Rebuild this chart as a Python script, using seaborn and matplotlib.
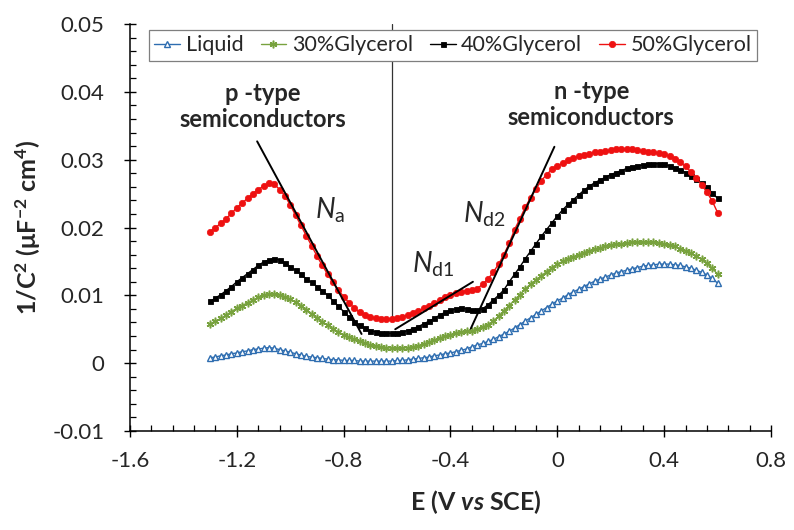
import numpy as np
import matplotlib
matplotlib.use("Agg")
import matplotlib.pyplot as plt
from matplotlib.ticker import MultipleLocator, FixedLocator, FixedFormatter
from matplotlib.lines import Line2D
import seaborn as sns

# Potential sweep (V vs SCE), 20 mV steps from -1.30 V to +0.60 V
potential = np.round(np.arange(-1.30, 0.6001, 0.02), 2)

# 1/C^2 (uF^-2 cm^4) for each electrolyte
liquid = [
    0.0008, 0.0009, 0.0011, 0.0012, 0.0014, 0.0015, 0.0017, 0.0018, 0.0020, 0.0021,
    0.0022, 0.0023, 0.0022, 0.0020, 0.0018, 0.0016, 0.0014, 0.0012, 0.0010, 0.0009,
    0.0008, 0.0007, 0.0006, 0.0005, 0.0005, 0.0004, 0.0004, 0.0004, 0.0003, 0.0003,
    0.0003, 0.0003, 0.0003, 0.0003, 0.0003, 0.0004, 0.0004, 0.0005, 0.0006, 0.0007,
    0.0008, 0.0009, 0.0011, 0.0012, 0.0014, 0.0015, 0.0017, 0.0019, 0.0021, 0.0024,
    0.0027, 0.0029, 0.0032, 0.0035, 0.0039, 0.0043, 0.0047, 0.0052, 0.0057, 0.0062,
    0.0067, 0.0072, 0.0077, 0.0082, 0.0087, 0.0092, 0.0096, 0.0101, 0.0105, 0.0109,
    0.0113, 0.0117, 0.0121, 0.0124, 0.0127, 0.0130, 0.0133, 0.0135, 0.0137, 0.0139,
    0.0141, 0.0143, 0.0144, 0.0145, 0.0146, 0.0146, 0.0146, 0.0145, 0.0144, 0.0142,
    0.0140, 0.0137, 0.0134, 0.0130, 0.0125, 0.0118,
]
glycerol_30 = [
    0.0058, 0.0062, 0.0066, 0.0071, 0.0076, 0.0081, 0.0085, 0.0089, 0.0093, 0.0097,
    0.0100, 0.0102, 0.0102, 0.0101, 0.0098, 0.0094, 0.0090, 0.0085, 0.0079, 0.0073,
    0.0067, 0.0061, 0.0056, 0.0051, 0.0046, 0.0042, 0.0038, 0.0035, 0.0032, 0.0029,
    0.0027, 0.0025, 0.0024, 0.0023, 0.0022, 0.0022, 0.0022, 0.0023, 0.0024, 0.0026,
    0.0028, 0.0031, 0.0034, 0.0037, 0.0040, 0.0042, 0.0044, 0.0046, 0.0047, 0.0048,
    0.0050, 0.0053, 0.0057, 0.0062, 0.0069, 0.0077, 0.0085, 0.0093, 0.0101, 0.0109,
    0.0117, 0.0122, 0.0129, 0.0135, 0.0141, 0.0146, 0.0150, 0.0154, 0.0157, 0.0160,
    0.0163, 0.0166, 0.0168, 0.0170, 0.0172, 0.0174, 0.0175, 0.0176, 0.0177, 0.0178,
    0.0178, 0.0178, 0.0178, 0.0178, 0.0177, 0.0176, 0.0174, 0.0172, 0.0169, 0.0166,
    0.0162, 0.0158, 0.0153, 0.0147, 0.0140, 0.0131,
]
glycerol_40 = [
    0.0091, 0.0096, 0.0101, 0.0107, 0.0113, 0.0120, 0.0126, 0.0132, 0.0138, 0.0144,
    0.0149, 0.0152, 0.0154, 0.0152, 0.0148, 0.0142, 0.0137, 0.0131, 0.0124, 0.0119,
    0.0113, 0.0107, 0.0100, 0.0092, 0.0084, 0.0076, 0.0068, 0.0061, 0.0056, 0.0052,
    0.0048, 0.0046, 0.0045, 0.0044, 0.0044, 0.0045, 0.0046, 0.0048, 0.0051, 0.0054,
    0.0058, 0.0062, 0.0066, 0.0071, 0.0075, 0.0078, 0.0080, 0.0081, 0.0080, 0.0078,
    0.0078, 0.0080, 0.0086, 0.0093, 0.0100, 0.0108, 0.0120, 0.0131, 0.0142, 0.0154,
    0.0165, 0.0176, 0.0187, 0.0197, 0.0207, 0.0217, 0.0226, 0.0234, 0.0241, 0.0248,
    0.0255, 0.0261, 0.0266, 0.0270, 0.0274, 0.0278, 0.0281, 0.0284, 0.0287, 0.0289,
    0.0291, 0.0292, 0.0293, 0.0294, 0.0294, 0.0293, 0.0291, 0.0288, 0.0285, 0.0281,
    0.0276, 0.0271, 0.0265, 0.0259, 0.0251, 0.0243,
]
glycerol_50 = [
    0.0194, 0.0200, 0.0206, 0.0213, 0.0221, 0.0229, 0.0236, 0.0243, 0.0250, 0.0256,
    0.0261, 0.0265, 0.0264, 0.0256, 0.0247, 0.0233, 0.0218, 0.0203, 0.0188, 0.0173,
    0.0158, 0.0144, 0.0131, 0.0119, 0.0108, 0.0098, 0.0089, 0.0081, 0.0075, 0.0071,
    0.0068, 0.0066, 0.0065, 0.0065, 0.0065, 0.0066, 0.0068, 0.0071, 0.0074, 0.0077,
    0.0081, 0.0085, 0.0089, 0.0093, 0.0097, 0.0100, 0.0103, 0.0105, 0.0107, 0.0108,
    0.0110, 0.0116, 0.0124, 0.0134, 0.0146, 0.0160, 0.0177, 0.0197, 0.0213, 0.0230,
    0.0244, 0.0257, 0.0269, 0.0278, 0.0286, 0.0291, 0.0295, 0.0299, 0.0302, 0.0305,
    0.0307, 0.0309, 0.0311, 0.0312, 0.0313, 0.0314, 0.0315, 0.0315, 0.0315, 0.0315,
    0.0314, 0.0313, 0.0312, 0.0311, 0.0310, 0.0308, 0.0305, 0.0301, 0.0296, 0.0290,
    0.0282, 0.0273, 0.0263, 0.0252, 0.0239, 0.0222,
]

series_names = ["Liquid", "30%Glycerol", "40%Glycerol", "50%Glycerol"]

# Linear fits used for the acceptor / donor densities: (x0, y0, x1, y1)
fit_na = (-1.124, 0.0327, -0.733, 0.0043)
fit_nd1 = (-0.607, 0.0050, -0.316, 0.0120)
fit_nd2 = (-0.324, 0.0051, -0.011, 0.0319)
flatband_x = -0.618
flatband_y = (0.0066, 0.05)

x_ticks = [-1.6, -1.2, -0.8, -0.4, 0.0, 0.4, 0.8]
x_tick_labels = ["-1.6", "-1.2", "-0.8", "-0.4", "0", "0.4", "0.8"]
y_ticks = [-0.01, 0.0, 0.01, 0.02, 0.03, 0.04, 0.05]
y_tick_labels = ["-0.01", "0", "0.01", "0.02", "0.03", "0.04", "0.05"]

sns.set_style("ticks")
plt.rcParams["font.family"] = ["Lato", "DejaVu Sans"]
plt.rcParams["mathtext.fontset"] = "custom"
plt.rcParams["mathtext.rm"] = "Lato"
plt.rcParams["mathtext.it"] = "Lato:italic"
plt.rcParams["mathtext.bf"] = "Lato:bold"
plt.rcParams["mathtext.bfit"] = "Lato:italic:bold"

text_col = "#262626"

fig = plt.figure(figsize=(7.94, 5.30), dpi=100)
ax = fig.add_axes([130 / 794, 99 / 530, 641 / 794, 407 / 530])

styles = [
    dict(color="#2E6DB0", marker="^", markersize=4.6, markerfacecolor="white",
         markeredgecolor="#2E6DB0", markeredgewidth=1.0),
    dict(color="#78A23E", marker=(6, 2, 0), markersize=5.5,
         markeredgecolor="#78A23E", markeredgewidth=1.1),
    dict(color="black", marker="s", markersize=3.6, markeredgecolor="black",
         markeredgewidth=0.6),
    dict(color="#EE1111", marker="o", markersize=4.6, markeredgecolor="#EE1111",
         markeredgewidth=0.5),
]

for name, values, st in zip(series_names, [liquid, glycerol_30, glycerol_40, glycerol_50], styles):
    sns.lineplot(x=potential, y=values, ax=ax, sort=False, estimator=None,
                 linewidth=1.0, **st)

# Mott-Schottky linear fits and flat-band separator
for x0, y0, x1, y1 in (fit_na, fit_nd1, fit_nd2):
    ax.plot([x0, x1], [y0, y1], color="black", lw=1.4, zorder=6)
ax.plot([flatband_x, flatband_x], list(flatband_y), color="#333333", lw=0.9, zorder=1)

ax.set_xlim(-1.6, 0.8)
ax.set_ylim(-0.01, 0.05)
ax.xaxis.set_major_locator(FixedLocator(x_ticks))
ax.xaxis.set_major_formatter(FixedFormatter(x_tick_labels))
ax.yaxis.set_major_locator(FixedLocator(y_ticks))
ax.yaxis.set_major_formatter(FixedFormatter(y_tick_labels))
ax.xaxis.set_minor_locator(MultipleLocator(0.08))
ax.yaxis.set_minor_locator(MultipleLocator(0.002))
ax.tick_params(which="major", direction="inout", length=9, width=1.0,
               color="black", labelsize=16, labelcolor=text_col)
ax.tick_params(axis="y", which="major", pad=14)
ax.tick_params(axis="x", which="major", pad=10)
ax.tick_params(which="minor", direction="in", length=4, width=0.9, color="black")
for side in ("top", "right"):
    ax.spines[side].set_visible(False)
for side in ("left", "bottom"):
    ax.spines[side].set_linewidth(1.1)
    ax.spines[side].set_color("black")

ax.set_ylabel(r"1/C$^{\mathbf{2}}$ (μF$^{\mathbf{-2}}$ cm$^{\mathbf{4}}$)",
              fontsize=18, fontweight="bold", color=text_col)
ax.yaxis.set_label_coords(-0.135, 0.5)
ax.set_xlabel(r"E (V $\mathbfit{vs}$ SCE)", fontsize=18, fontweight="bold", color=text_col)
ax.xaxis.set_label_coords(0.54, -0.14)

# Region annotations
ax.text(-1.103, 0.0378, "p -type\nsemiconductors", ha="center", va="center",
        fontsize=17, fontweight="bold", color=text_col, linespacing=1.15)
ax.text(0.127, 0.0381, "n -type\nsemiconductors", ha="center", va="center",
        fontsize=17, fontweight="bold", color=text_col, linespacing=1.15)
ax.text(-0.908, 0.0213, r"$N_{\mathrm{a}}$", ha="left", va="baseline",
        fontsize=20, color=text_col)
ax.text(-0.546, 0.0133, r"$N_{\mathrm{d1}}$", ha="left", va="baseline",
        fontsize=20, color=text_col)
ax.text(-0.355, 0.0208, r"$N_{\mathrm{d2}}$", ha="left", va="baseline",
        fontsize=20, color=text_col)

handles = [Line2D([0], [0], linewidth=1.0, **st) for st in styles]
leg = ax.legend(handles, series_names, ncol=4, loc="upper center",
                bbox_to_anchor=(0.504, 0.985), frameon=True, fancybox=False,
                framealpha=1, edgecolor="#7f7f7f", fontsize=15.5,
                handlelength=1.2, handletextpad=0.25, columnspacing=0.8,
                borderpad=0.25, borderaxespad=0.0)
leg.get_frame().set_linewidth(0.9)
for t in leg.get_texts():
    t.set_color(text_col)

fig.savefig("out.png", dpi=100)
